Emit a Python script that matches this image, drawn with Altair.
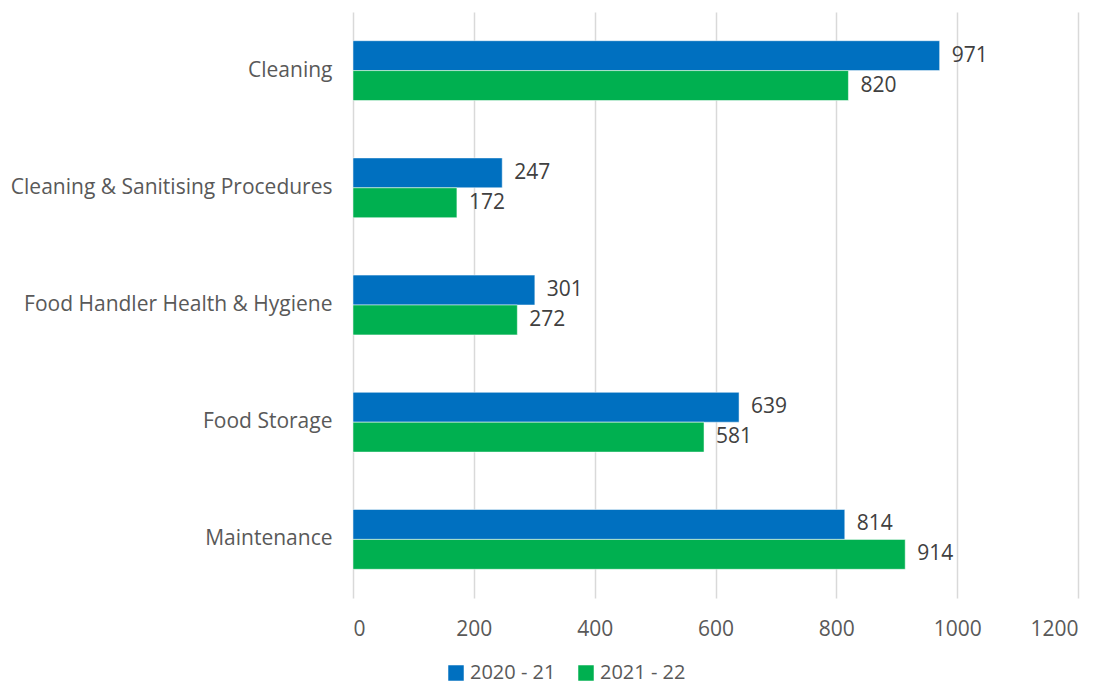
import altair as alt
import pandas as pd

categories = ["Cleaning", "Cleaning & Sanitising Procedures", "Food Handler Health & Hygiene", "Food Storage", "Maintenance"]
series = ["2020 - 21", "2021 - 22"]
values_2020 = [971, 247, 301, 639, 814]
values_2021 = [820, 172, 272, 581, 914]

rows = []
for c, a, b in zip(categories, values_2020, values_2021):
    rows.append({"cat": c, "series": series[0], "value": a})
    rows.append({"cat": c, "series": series[1], "value": b})
df = pd.DataFrame(rows)

FONT = "Open Sans"
FS = 21
y_enc = alt.Y("cat:N", sort=categories, title=None,
              scale=alt.Scale(paddingInner=0.49, paddingOuter=0.245),
              axis=alt.Axis(ticks=False, domain=False, labelFontSize=FS, labelColor="#595959",
                            labelPadding=21, labelFont=FONT, labelLimit=400))
yoff = alt.YOffset("series:N", sort=series, scale=alt.Scale(paddingInner=0, paddingOuter=0))

bars = alt.Chart(df).mark_bar(stroke="white", strokeWidth=0.5).encode(
    x=alt.X("value:Q", title=None,
            scale=alt.Scale(domain=[0, 1200], nice=False),
            axis=alt.Axis(values=[0, 200, 400, 600, 800, 1000, 1200], format="d", grid=True,
                          gridColor="#D9D9D9", gridWidth=1.5, domain=False, ticks=False,
                          labelFontSize=FS, labelColor="#595959", labelPadding=20, labelFont=FONT)),
    y=y_enc,
    yOffset=yoff,
    color=alt.Color("series:N", sort=series,
                    scale=alt.Scale(domain=series, range=["#0070C0", "#00B050"]),
                    legend=alt.Legend(title=None, orient="none", direction="horizontal",
                                      legendX=93, legendY=651,
                                      symbolType="square", symbolSize=240,
                                      labelFontSize=FS - 1, labelColor="#595959", labelFont=FONT,
                                      symbolStrokeWidth=0, columnPadding=20)),
)

labels = alt.Chart(df).mark_text(align="left", baseline="middle", dx=12, fontSize=FS,
                                 color="#404040", font=FONT).encode(
    x="value:Q",
    y=alt.Y("cat:N", sort=categories),
    yOffset=yoff,
    text="value:Q",
)

chart = (bars + labels).properties(
    width=725, height=586,
    padding={"top": 4, "left": 2, "right": 5, "bottom": 2},
).configure_view(stroke=None)
chart.save("out.html", embed_options={"renderer": "svg", "actions": False})
